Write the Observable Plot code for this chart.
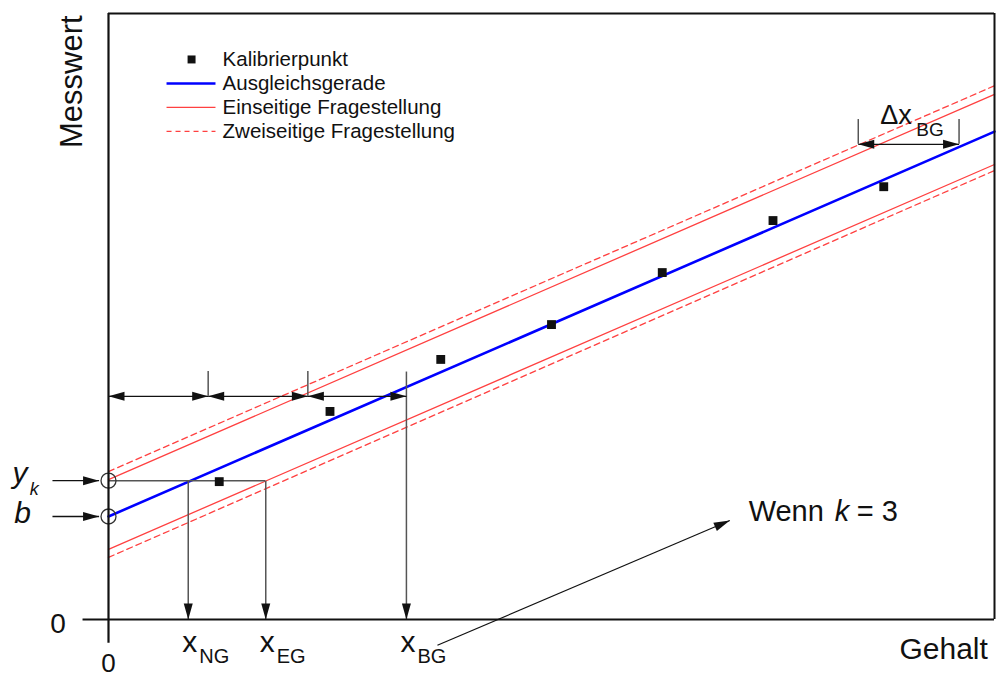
<!DOCTYPE html>
<html>
<head>
<meta charset="utf-8">
<script src="https://cdn.jsdelivr.net/npm/d3@7"></script>
<script src="https://cdn.jsdelivr.net/npm/@observablehq/plot@0.6"></script>
<style>
  html, body { margin: 0; padding: 0; background: #fff; }
  #chart svg { display: block; }
</style>
</head>
<body>
<div id="chart"></div>
<script>
// ---- data ----
const calX = [1, 2, 3, 4, 5, 6, 7];
const calY = [2.73, 4.12, 5.15, 5.84, 6.87, 7.90, 8.57];
const lineX = [0, 8];
const fitY = [2.04, 9.66];            // Ausgleichsgerade
const oneSidedUpper = [2.77, 10.40];  // Einseitige Fragestellung
const oneSidedLower = [1.39, 9.01];
const twoSidedUpper = [2.93, 10.57];  // Zweiseitige Fragestellung
const twoSidedLower = [1.23, 8.89];
const yk = 2.75, b = 2.04;
const xNG = 0.72, xEG = 1.42, xBG = 2.69;
const limitNames = ["NG", "EG", "BG"];
const limitValues = [xNG, xEG, xBG];
const dimTicks = [0, 0.90, 1.80, 2.69];
const dimY = 4.42, dimTickTop = 4.91;
const deltaX = [6.77, 7.68];
const deltaY = 9.41, deltaTop = 9.90;
const noteFrom = [2.97, -0.51];
const noteTo = [5.61, 1.96];
const legendLabels = ["Kalibrierpunkt", "Ausgleichsgerade", "Einseitige Fragestellung", "Zweiseitige Fragestellung"];

// ---- helpers ----
const ink = "#111";
const gray = "#555";
const red = "#ff4040";
const blue = "#0000ff";
const pts = (xs, ys) => xs.map((x, i) => ({x, y: ys[i]}));

function head(color) {
  const ns = "http://www.w3.org/2000/svg";
  const m = document.createElementNS(ns, "marker");
  m.setAttribute("viewBox", "-17 -6 18 12");
  m.setAttribute("markerUnits", "userSpaceOnUse");
  m.setAttribute("markerWidth", 18);
  m.setAttribute("markerHeight", 12);
  m.setAttribute("refX", 0);
  m.setAttribute("refY", 0);
  m.setAttribute("orient", "auto-start-reverse");
  m.setAttribute("overflow", "visible");
  const p = document.createElementNS(ns, "path");
  p.setAttribute("d", "M0,0L-16,-4.5L-16,4.5Z");
  p.setAttribute("fill", "#111");
  p.setAttribute("stroke", "none");
  m.appendChild(p);
  return m;
}

const legendTop = 11.09, legendStep = 0.475;
const rowY = i => legendTop - i * legendStep;
const legendRows = legendLabels.map((label, i) => ({label, y: rowY(i)}));

const font = "'Liberation Sans', Arial, Helvetica, sans-serif";

const chart = Plot.plot({
  width: 998,
  height: 678,
  marginLeft: 108,
  marginRight: 4,
  marginTop: 13,
  marginBottom: 59,
  x: {domain: [0, 8], axis: null},
  y: {domain: [0, 12], axis: null},
  style: {fontFamily: font, background: "#fff", overflow: "visible", color: ink},
  marks: [
    // confidence / prediction bands
    Plot.line(pts(lineX, twoSidedUpper), {x: "x", y: "y", stroke: red, strokeWidth: 1.3, strokeDasharray: "6,4"}),
    Plot.line(pts(lineX, twoSidedLower), {x: "x", y: "y", stroke: red, strokeWidth: 1.3, strokeDasharray: "6,4"}),
    Plot.line(pts(lineX, oneSidedUpper), {x: "x", y: "y", stroke: red, strokeWidth: 1.3}),
    Plot.line(pts(lineX, oneSidedLower), {x: "x", y: "y", stroke: red, strokeWidth: 1.3}),
    Plot.line(pts(lineX, fitY), {x: "x", y: "y", stroke: blue, strokeWidth: 2.6}),

    // annotation lines
    Plot.ruleY([yk], {x1: 0, x2: xEG, stroke: gray, strokeWidth: 1.5}),
    Plot.link([xNG, xEG], {x1: d => d, x2: d => d, y1: yk, y2: 0, stroke: gray, strokeWidth: 1.5, markerEnd: head}),
    Plot.link([xBG], {x1: d => d, x2: d => d, y1: dimTickTop, y2: 0, stroke: gray, strokeWidth: 1.5, markerEnd: head}),
    Plot.ruleX(dimTicks.slice(1, -1), {y1: dimY, y2: dimTickTop, stroke: gray, strokeWidth: 1.5}),
    Plot.link(d3.pairs(dimTicks), {x1: d => d[0], x2: d => d[1], y1: dimY, y2: dimY, stroke: ink, strokeWidth: 1.3, markerStart: head, markerEnd: head}),

    // delta x_BG
    Plot.ruleX(deltaX, {y1: deltaY, y2: deltaTop, stroke: gray, strokeWidth: 1.5}),
    Plot.link([deltaX], {x1: d => d[0], x2: d => d[1], y1: deltaY, y2: deltaY, stroke: ink, strokeWidth: 1.3, markerStart: head, markerEnd: head}),
    Plot.text(["\u0394x"], {x: deltaX[0], y: 9.82, dx: 22, text: d => d, textAnchor: "start", lineAnchor: "bottom", fontSize: 27, fill: ink}),
    Plot.text(["BG"], {x: deltaX[0], y: 9.58, dx: 58, text: d => d, textAnchor: "start", lineAnchor: "bottom", fontSize: 19, fill: ink}),

    // y_k and b pointers
    Plot.link([yk, b], {x1: -0.506, x2: -0.085, y1: d => d, y2: d => d, stroke: ink, strokeWidth: 1.3, markerEnd: head}),
    Plot.dot([yk, b], {x: 0, y: d => d, r: 7.5, stroke: "#333", strokeWidth: 1.3, fill: "none"}),

    // calibration points
    Plot.dot(pts(calX, calY), {x: "x", y: "y", symbol: "square", r: 5, fill: ink}),

    // frame / axes
    Plot.ruleY([12], {x1: 0, x2: 8, stroke: ink, strokeWidth: 2}),
    Plot.ruleX([8], {y1: 0, y2: 12, stroke: ink, strokeWidth: 2}),
    Plot.ruleY([0], {x1: -0.23, x2: 8, stroke: ink, strokeWidth: 2.2}),
    Plot.ruleX([0], {y1: -0.47, y2: 12, stroke: ink, strokeWidth: 2.2}),

    // "Wenn k = 3" arrow
    Plot.link([0], {x1: noteFrom[0], y1: noteFrom[1], x2: noteTo[0], y2: noteTo[1], stroke: ink, strokeWidth: 1.2, markerEnd: head}),
    Plot.text(["Wenn"], {x: 5.78, y: 1.96, text: d => d, textAnchor: "start", lineAnchor: "bottom", fontSize: 29, fill: ink}),
    Plot.text(["k"], {x: 5.78, y: 1.96, dx: 86, text: d => d, textAnchor: "start", lineAnchor: "bottom", fontSize: 29, fontStyle: "italic", fill: ink}),
    Plot.text(["= 3"], {x: 5.78, y: 1.96, dx: 108, text: d => d, textAnchor: "start", lineAnchor: "bottom", fontSize: 29, fill: ink}),

    // axis labels and ticks
    Plot.text(["Messwert"], {x: -0.325, y: 10.65, text: d => d, rotate: -90, textAnchor: "middle", lineAnchor: "middle", fontSize: 31, fill: ink}),
    Plot.text(["Gehalt"], {x: 7.94, y: -0.792, text: d => d, textAnchor: "end", lineAnchor: "bottom", fontSize: 30, fill: ink}),
    Plot.text(["0"], {x: -0.456, y: -0.277, text: d => d, textAnchor: "middle", lineAnchor: "bottom", fontSize: 28, fill: ink}),
    Plot.text(["0"], {x: 0, y: -1.04, text: d => d, textAnchor: "middle", lineAnchor: "bottom", fontSize: 26, fill: ink}),

    // y_k, b labels
    Plot.text(["y"], {x: -0.867, y: 2.71, text: d => d, textAnchor: "start", lineAnchor: "bottom", fontSize: 30, fontStyle: "italic", fill: ink}),
    Plot.text(["k"], {x: -0.71, y: 2.475, text: d => d, textAnchor: "start", lineAnchor: "bottom", fontSize: 18, fontStyle: "italic", fill: ink}),
    Plot.text(["b"], {x: -0.85, y: 1.92, text: d => d, textAnchor: "start", lineAnchor: "bottom", fontSize: 30, fontStyle: "italic", fill: ink}),

    // x_NG, x_EG, x_BG labels
    Plot.text(limitValues, {x: d => d, y: -0.634, dx: -6, text: () => "x", textAnchor: "start", lineAnchor: "bottom", fontSize: 30, fill: ink}),
    Plot.text(limitValues, {x: d => d, y: -0.871, dx: 11, text: (d, i) => limitNames[i], textAnchor: "start", lineAnchor: "bottom", fontSize: 20, fill: ink}),

    // legend
    Plot.dot([legendRows[0]], {x: 0.75, y: "y", symbol: "square", r: 4.5, fill: ink}),
    Plot.link([legendRows[1]], {x1: 0.524, x2: 0.966, y1: "y", y2: "y", stroke: blue, strokeWidth: 2.4}),
    Plot.link([legendRows[2]], {x1: 0.524, x2: 0.966, y1: "y", y2: "y", stroke: red, strokeWidth: 1.3}),
    Plot.link([legendRows[3]], {x1: 0.524, x2: 0.966, y1: "y", y2: "y", stroke: red, strokeWidth: 1.3, strokeDasharray: "5,4"}),
    Plot.text(legendRows, {x: 1.03, y: "y", text: "label", textAnchor: "start", lineAnchor: "middle", fontSize: 20.5, fill: ink})
  ]
});

document.getElementById("chart").appendChild(chart);
</script>
</body>
</html>
